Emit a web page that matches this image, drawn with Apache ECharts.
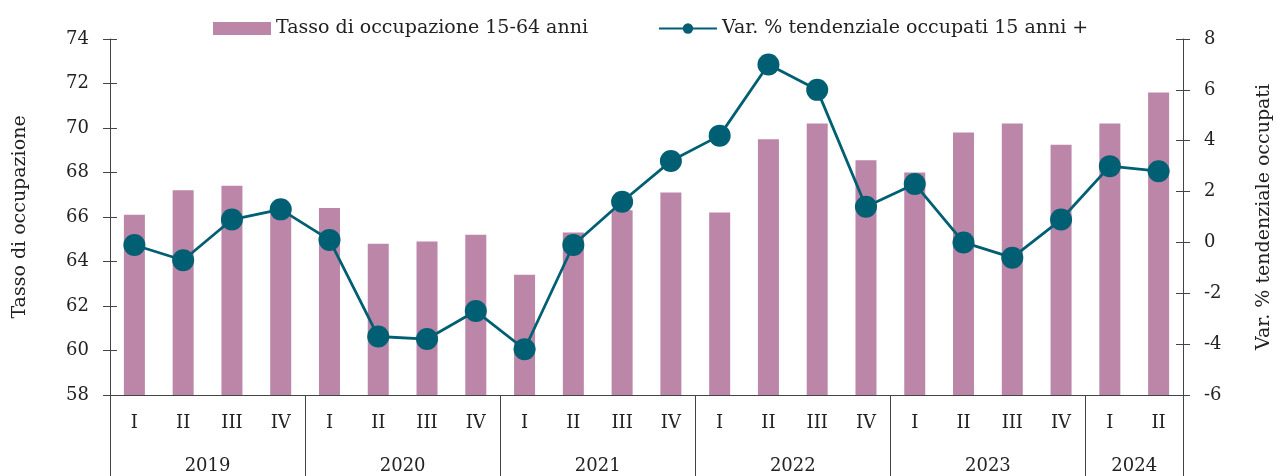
<!DOCTYPE html>
<html>
<head>
<meta charset="utf-8">
<script src="https://cdn.jsdelivr.net/npm/echarts@6/dist/echarts.min.js"></script>
<style>
  html, body { margin: 0; padding: 0; background: #fff; }
  #chart { width: 1276px; height: 476px; }
</style>
</head>
<body>
<div id="chart"></div>
<script>
// quarters 2019 I .. 2024 II
const quarters = ['I', 'II', 'III', 'IV', 'I', 'II', 'III', 'IV', 'I', 'II', 'III', 'IV',
  'I', 'II', 'III', 'IV', 'I', 'II', 'III', 'IV', 'I', 'II']
const years = ['2019', '2020', '2021', '2022', '2023', '2024']
// year label positions / separators, counted in quarters from the start
const yearCenters = [2, 6, 10, 14, 18, 21]
const yearBounds = [0, 4, 8, 12, 16, 20, 22]
const tassoOccupazione = [66.1, 67.2, 67.4, 66.5, 66.4, 64.8, 64.9, 65.2, 63.4, 65.3, 66.3, 67.1,
  66.2, 69.5, 70.2, 68.55, 68.0, 69.8, 70.2, 69.25, 70.2, 71.6]
const varTendenziale = [-0.1, -0.7, 0.9, 1.3, 0.1, -3.7, -3.8, -2.7, -4.2, -0.1, 1.6, 3.2,
  4.2, 7.0, 6.0, 1.4, 2.3, 0.0, -0.6, 0.9, 3.0, 2.8]

const font = 'DejaVu Serif'
const txt = '#222'
const axisCol = '#444'
const tickSize = 18
const nameSize = 19

const chart = echarts.init(document.getElementById('chart'))

const option = {
  animation: false,
  textStyle: { fontFamily: font, color: txt },
  legend: {
    top: 14,
    left: 208,
    itemWidth: 58,
    itemHeight: 13,
    itemGap: 70,
    textStyle: { fontFamily: font, fontSize: nameSize, color: txt },
    data: [
      { name: 'Tasso di occupazione 15-64 anni', icon: 'rect' },
      { name: 'Var. % tendenziale occupati 15 anni +' }
    ]
  },
  grid: { left: 110, right: 93, top: 39, bottom: 81, outerBoundsMode: 'none' },
  xAxis: [
    {
      type: 'category',
      position: 'bottom',
      offset: 0,
      data: quarters,
      axisLine: { onZero: false, lineStyle: { color: axisCol, width: 1.2 } },
      axisTick: { inside: true, length: 7, lineStyle: { color: axisCol } },
      axisLabel: { margin: 19, fontFamily: font, fontSize: tickSize, color: txt }
    },
    {
      type: 'category',
      position: 'bottom',
      offset: 0,
      data: quarters,
      axisLine: { show: false, onZero: false },
      axisTick: { length: 42, lineStyle: { color: axisCol } },
      axisLabel: { show: false }
    },
    {
      type: 'value',
      position: 'bottom',
      offset: 0,
      min: 0,
      max: 22,
      axisLine: { show: false, onZero: false },
      splitLine: { show: false },
      axisTick: { show: true, length: 81, customValues: yearBounds, lineStyle: { color: axisCol } },
      axisLabel: {
        show: true,
        customValues: yearCenters,
        margin: 62,
        fontFamily: font,
        fontSize: tickSize,
        color: txt,
        formatter: v => years[yearCenters.indexOf(v)]
      }
    }
  ],
  yAxis: [
    {
      type: 'value',
      min: 58,
      max: 74,
      interval: 2,
      position: 'left',
      name: 'Tasso di occupazione',
      nameLocation: 'middle',
      nameGap: 80,
      nameTextStyle: { fontFamily: font, fontSize: nameSize, color: txt },
      axisLine: { show: true, onZero: false, lineStyle: { color: axisCol } },
      axisTick: { show: true, length: 7, lineStyle: { color: axisCol } },
      axisLabel: { margin: 21, fontFamily: font, fontSize: tickSize, color: txt },
      splitLine: { show: false }
    },
    {
      type: 'value',
      min: -6,
      max: 8,
      interval: 2,
      position: 'right',
      name: 'Var. % tendenziale occupati',
      nameLocation: 'middle',
      nameGap: 72,
      nameRotate: 90,
      nameTextStyle: { fontFamily: font, fontSize: nameSize, color: txt },
      axisLine: { show: true, onZero: false, lineStyle: { color: axisCol } },
      axisTick: { show: true, length: 7, lineStyle: { color: axisCol } },
      axisLabel: { margin: 21, fontFamily: font, fontSize: tickSize, color: txt },
      splitLine: { show: false }
    },
    // inner halves of the crossing ticks
    {
      type: 'value', min: 58, max: 74, interval: 2, position: 'left', offset: 0,
      axisLine: { show: false, onZero: false }, axisLabel: { show: false }, splitLine: { show: false },
      axisTick: { show: true, inside: true, length: 7, lineStyle: { color: axisCol } }
    },
    {
      type: 'value', min: -6, max: 8, interval: 2, position: 'right', offset: 0,
      axisLine: { show: false, onZero: false }, axisLabel: { show: false }, splitLine: { show: false },
      axisTick: { show: true, inside: true, length: 7, lineStyle: { color: axisCol } }
    }
  ],
  series: [
    {
      name: 'Tasso di occupazione 15-64 anni',
      type: 'bar',
      xAxisIndex: 0,
      yAxisIndex: 0,
      barWidth: 21,
      itemStyle: { color: '#bb86a7' },
      data: tassoOccupazione
    },
    {
      name: 'Var. % tendenziale occupati 15 anni +',
      type: 'line',
      xAxisIndex: 0,
      yAxisIndex: 1,
      symbol: 'circle',
      symbolSize: 22,
      lineStyle: { color: '#005f73', width: 2.8 },
      itemStyle: { color: '#005f73' },
      data: varTendenziale
    }
  ]
}

chart.setOption(option)
</script>
</body>
</html>
